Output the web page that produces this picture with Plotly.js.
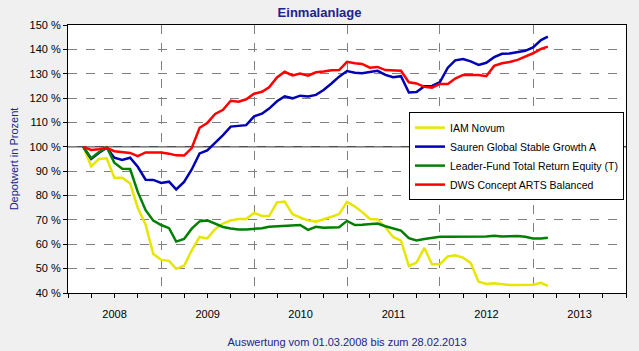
<!DOCTYPE html>
<html>
<head>
<meta charset="utf-8">
<script src="https://cdn.plot.ly/plotly-3.0.1.min.js"></script>
<style>html,body{margin:0;padding:0;background:#f0f0f0;}#chart{width:639px;height:351px;}</style>
</head>
<body>
<div id="chart"></div>
<script>
const dates = [
"2008-03-01","2008-04-01","2008-05-01","2008-06-01","2008-07-01","2008-08-01","2008-09-01","2008-10-01","2008-11-01","2008-12-01",
"2009-01-01","2009-02-01","2009-03-01","2009-04-01","2009-05-01","2009-06-01","2009-07-01","2009-08-01","2009-09-01","2009-10-01","2009-11-01","2009-12-01",
"2010-01-01","2010-02-01","2010-03-01","2010-04-01","2010-05-01","2010-06-01","2010-07-01","2010-08-01","2010-09-01","2010-10-01","2010-11-01","2010-12-01",
"2011-01-01","2011-02-01","2011-03-01","2011-04-01","2011-05-01","2011-06-01","2011-07-01","2011-08-01","2011-09-01","2011-10-01","2011-11-01","2011-12-01",
"2012-01-01","2012-02-01","2012-03-01","2012-04-01","2012-05-01","2012-06-01","2012-07-01","2012-08-01","2012-09-01","2012-10-01","2012-11-01","2012-12-01",
"2013-01-01","2013-02-01","2013-02-28"];

const iamNovum = [100,92,95,95.3,87.3,87.3,85,75,68,56,
53.6,53.2,49.9,51.2,57.5,63,62.4,66.2,68.5,69.8,70.4,70.4,
72.9,71.6,71.6,77.2,77.5,72.4,71,69.8,69.3,70.2,71.3,72.4,
77.4,75.5,73.3,70.4,70.2,67,63,61.5,51.1,52.5,58.5,51.8,
51.8,55,55.5,54.5,52.3,44.6,43.7,44,43.6,43.3,43.3,43.3,
43.4,44.2,42.9];

const sauren = [100,95,97.5,99.6,95.5,94.6,95.5,91.8,86.5,86.4,
85.2,85.7,82.5,85.6,90.7,97.3,98.5,101.5,104.8,108.3,108.6,108.9,
112.5,113.6,115.7,118.7,120.7,119.9,121,120.7,121.3,123.3,126,128.8,
131.1,130.4,130.2,130.8,131.2,129.5,128.6,129,122.3,122.5,124.9,125,
126.6,132.5,135.5,136,135.1,133.6,134.5,136.8,138.2,138.3,138.7,139.4,
140.8,143.8,145.2];

const leaderFund = [100,95.3,97.8,99.8,93.5,91,90.9,81.5,74,69.7,
67.9,66.6,61.1,62.2,66.4,69.4,69.8,68.6,67.1,66.5,66.1,66.1,
66.2,66.6,67.2,67.4,67.5,67.8,67.9,65.9,67.2,66.8,66.8,67,
69.6,67.9,68,68.3,68.5,67.4,66.4,65.6,62.5,61.6,62.2,62.6,
63.1,63.1,63.1,63.1,63.1,63.1,63.2,63.5,63.2,63.3,63.4,63.1,
62.4,62.4,62.7];

const dws = [100,98.7,99,99.6,98.2,97.7,97.5,96.2,97.7,97.7,
97.7,97.2,96.5,96.4,99.5,107.8,109.8,113.5,115.2,118.9,118.5,119.5,
121.8,122.6,124.4,128.5,130.8,129.3,130.1,129.2,130.6,130.9,131.4,131.5,
134.9,134.3,134,132.5,132.8,131.5,131.3,131.2,126.5,126,124.6,124.3,
125.8,125.8,128,129.5,129.5,129.5,129,133.2,134.3,134.8,135.7,137.1,
138.4,140.2,141.1];

const seriesNames = ["IAM Novum","Sauren Global Stable Growth A","Leader-Fund Total Return Equity (T)","DWS Concept ARTS Balanced"];
const seriesColors = ["#e6e600","#0000b4","#008000","#ff0000"];
const seriesValues = [iamNovum, sauren, leaderFund, dws];

const traces = seriesValues.map((v,i)=>({
  x: dates, y: v, type: "scatter", mode: "lines", name: seriesNames[i],
  line: {color: seriesColors[i], width: 2.5}
}));

const navy = "#22228c";
const layout = {
  width: 639, height: 351,
  paper_bgcolor: "#f0f0f0", plot_bgcolor: "#ffffff",
  margin: {l: 68, r: 13, t: 25, b: 58},
  font: {family: "Liberation Sans, Arial, sans-serif", size: 11, color: "#000"},
  title: {text: "<b>Einmalanlage</b>", font: {size: 13, color: navy}, x: 0.5, xanchor: "center", y: 0.965, yanchor: "middle"},
  showlegend: true,
  legend: {x: 0.9964, y: 0.675, xanchor: "right", yanchor: "top", bgcolor: "#ffffff", bordercolor: "#000", borderwidth: 1,
           font: {size: 10.5, color: "#000"}, tracegroupgap: 0, itemwidth: 30},
  xaxis: {
    type: "date", range: ["2008-01-01","2014-01-01"],
    tick0: "2008-01-01", dtick: "M12", tickformat: "%Y", ticklabelmode: "period",
    ticks: "outside", ticklen: 4, tickcolor: "#000", ticklabelstandoff: 7,
    showgrid: true, gridcolor: "#808080", griddash: "dash", gridwidth: 1,
    minor: {dtick: "M3", tick0: "2008-01-01", ticks: "outside", ticklen: 4, tickcolor: "#000", showgrid: false},
    showline: true, linecolor: "#000", linewidth: 1, mirror: true,
    zeroline: false, fixedrange: true,
    title: {text: "Auswertung vom 01.03.2008 bis zum 28.02.2013", font: {size: 11, color: navy}, standoff: 19}
  },
  yaxis: {
    range: [40,150], dtick: 10, tick0: 40, ticksuffix: " %",
    ticks: "outside", ticklen: 4, tickcolor: "#000",
    showgrid: true, gridcolor: "#808080", griddash: "dash", gridwidth: 1,
    showline: true, linecolor: "#000", linewidth: 1, mirror: true,
    zeroline: false, fixedrange: true,
    title: {text: "Depotwert in Prozent", font: {size: 11, color: navy}, standoff: 8}
  },
  shapes: [
    {type: "line", xref: "paper", x0: 0, x1: 1, yref: "y", y0: 100, y1: 100, line: {color: "#000", width: 1}, layer: "below"}
  ]
};

Plotly.newPlot("chart", traces, layout, {staticPlot: true, displayModeBar: false});
</script>
</body>
</html>
